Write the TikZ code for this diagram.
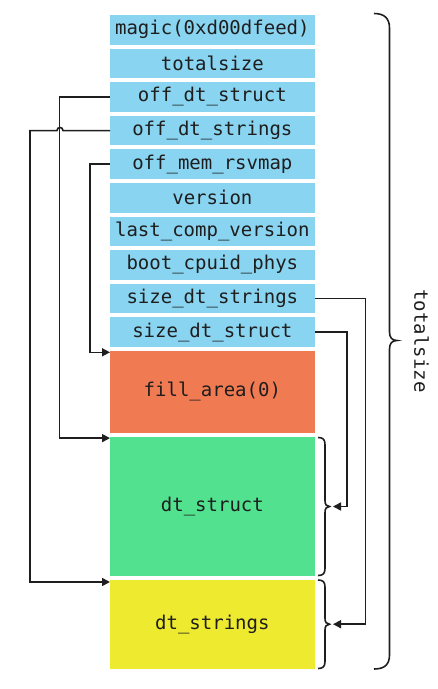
\documentclass[tikz,border=0pt]{standalone}
\usepackage{fontspec}
\setmonofont{DejaVu Sans Mono}
\usetikzlibrary{arrows.meta,calc}
\definecolor{hdrblue}{RGB}{137,212,240}
\definecolor{fillorange}{RGB}{240,123,83}
\definecolor{structgreen}{RGB}{81,225,143}
\definecolor{stryellow}{RGB}{238,234,48}
\definecolor{ink}{RGB}{30,30,30}
\begin{document}
\begin{tikzpicture}[x=1pt,y=-1pt,
  every node/.style={font=\ttfamily\fontsize{19}{22}\selectfont, text=ink},
  cell/.style={minimum width=204.7pt, inner sep=0pt, outer sep=0pt},
  hdr/.style={cell, fill=hdrblue, minimum height=29.5pt},
  conn/.style={draw=ink, line width=1.6pt},
  arr/.style={conn, -{Triangle[length=8pt,width=8pt]}},
  brace/.style={draw=ink, line width=1.6pt}
]
\useasboundingbox (0,0) rectangle (438,689);
% header fields
\node[hdr] (magic)    at (212.35, 29.75) {magic(0xd00dfeed)};
\node[hdr] (total)    at (212.35, 63.35) {totalsize};
\node[hdr] (offstruct) at (212.35, 96.95) {off\_dt\_struct};
\node[hdr] (offstr)   at (212.35,130.55) {off\_dt\_strings};
\node[hdr] (offmem)   at (212.35,164.15) {off\_mem\_rsvmap};
\node[hdr] (ver)      at (212.35,197.75) {version};
\node[hdr] (lastcomp) at (212.35,231.35) {last\_comp\_version};
\node[hdr] (boot)     at (212.35,264.95) {boot\_cpuid\_phys};
\node[hdr] (sizestr)  at (212.35,298.55) {size\_dt\_strings};
\node[hdr] (sizestruct) at (212.35,332.15) {size\_dt\_struct};
% areas
\node[cell, fill=fillorange, minimum height=81.7pt] (fill) at (212.35,391.85) {fill\_area(0)};
\node[cell, fill=structgreen, minimum height=138.4pt] (dtstruct) at (212.35,506.5) {dt\_struct};
\node[cell, fill=stryellow, minimum height=89pt] (dtstr) at (212.35,624.2) {dt\_strings};
% brace tips
\coordinate (tipstruct) at (333,506.5);
\coordinate (tipstr) at (333,624.2);
% left connectors
\draw[arr] (offstruct.west) -- ++(-50.5,0) |- ([yshift=-0.8pt]dtstruct.north west);
\draw[arr] (offstr.west) -- (63,130.55) .. controls (63,126.5) and (57,126.5) .. (57,130.55)
   -- (30,130.55) |- ([yshift=-2.3pt]dtstr.north west);
\draw[arr] (offmem.west) -- ++(-20,0) |- ([yshift=-1.3pt]fill.north west);
% right connectors
\draw[arr] (sizestr.east) -- (365.5,298.55) |- (tipstr);
\draw[arr] (sizestruct.east) -- (347,332.15) |- (tipstruct);
% small braces
\draw[brace] (318,437.5) .. controls (323,437.5) and (325,439.5) .. (325,444.5)
  -- (325,500.5) .. controls (325,504.5) and (326.5,506.5) .. (329.5,506.5)
  .. controls (326.5,506.5) and (325,508.5) .. (325,512.5)
  -- (325,568.5) .. controls (325,573.5) and (323,575.5) .. (318,575.5);
\draw[brace] (318,580) .. controls (323,580) and (325,582) .. (325,587)
  -- (325,618.2) .. controls (325,622.2) and (326.5,624.2) .. (329.5,624.2)
  .. controls (326.5,624.2) and (325,626.2) .. (325,630.2)
  -- (325,661.5) .. controls (325,666.5) and (323,668.5) .. (318,668.5);
% big brace
\draw[brace] (374,13.5) .. controls (384,13.5) and (389.5,18) .. (389.5,28)
  -- (389.5,332) .. controls (389.5,337.5) and (392,340.5) .. (397,340.5)
  .. controls (392,340.5) and (389.5,343.5) .. (389.5,349)
  -- (389.5,655) .. controls (389.5,665) and (384,669) .. (374,669);
\node[rotate=-90] (lbl) at (421.5,341) {totalsize};
\end{tikzpicture}
\end{document}
